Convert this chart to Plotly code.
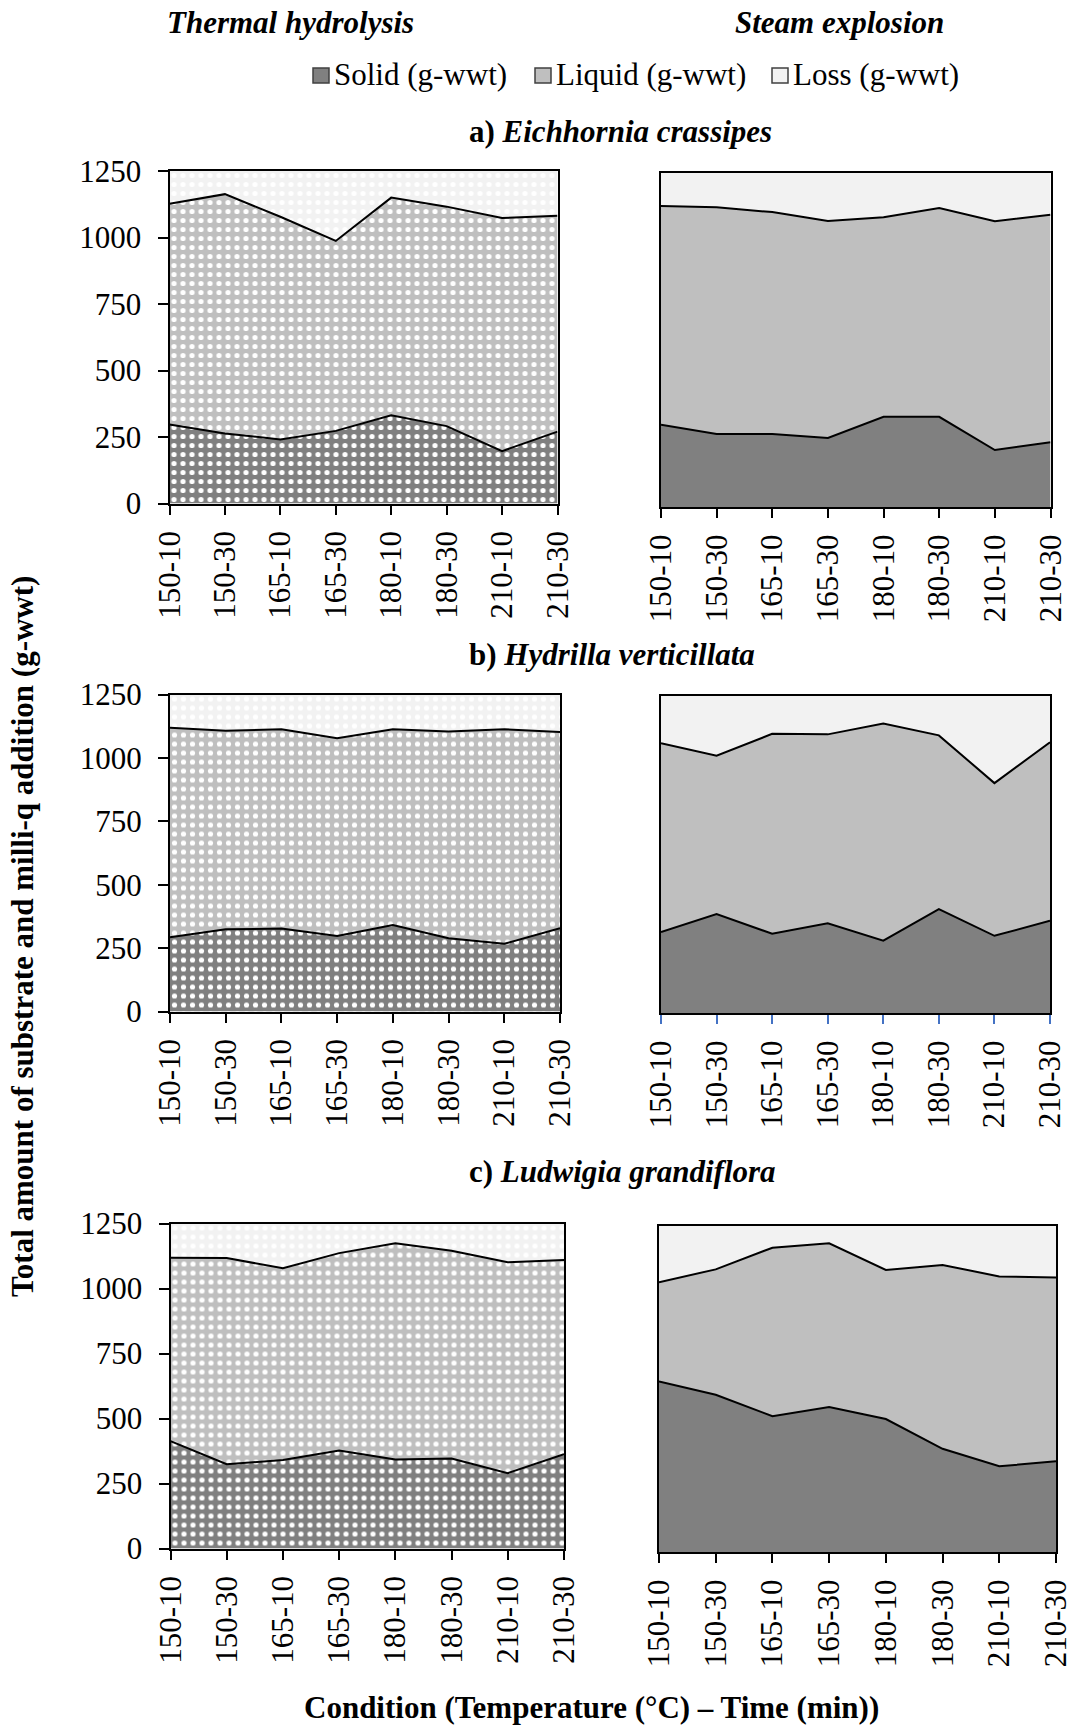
import plotly.graph_objects as go

# Pretreatment conditions (temperature °C - time min)
conditions = ["150-10", "150-30", "165-10", "165-30", "180-10", "180-30", "210-10", "210-30"]
y_ticks = [0, 250, 500, 750, 1000, 1250]

# a) Eichhornia crassipes
th_a_solid = [297, 263, 241, 273, 332, 291, 197, 270]
th_a_liquid = [830, 900, 837, 714, 818, 825, 876, 812]
th_a_loss = [123, 87, 172, 263, 100, 134, 177, 168]
se_a_solid = [307, 273, 273, 258, 337, 337, 213, 242]
se_a_liquid = [818, 847, 829, 811, 746, 780, 855, 850]
se_a_loss = [125, 130, 148, 181, 167, 133, 182, 158]

# b) Hydrilla verticillata
th_b_solid = [293, 324, 327, 298, 341, 289, 267, 328]
th_b_liquid = [826, 783, 786, 780, 772, 815, 846, 774]
th_b_loss = [131, 143, 137, 172, 137, 146, 137, 148]
se_b_solid = [319, 390, 312, 353, 285, 409, 304, 363]
se_b_liquid = [743, 623, 787, 744, 855, 684, 601, 703]
se_b_loss = [188, 237, 151, 153, 110, 157, 345, 184]

# c) Ludwigia grandiflora
th_c_solid = [413, 324, 340, 377, 342, 346, 290, 363]
th_c_liquid = [705, 793, 738, 759, 832, 799, 811, 747]
th_c_loss = [132, 133, 172, 114, 76, 105, 149, 140]
se_c_solid = [653, 602, 520, 555, 509, 395, 328, 347]
se_c_liquid = [380, 480, 645, 627, 571, 704, 727, 704]
se_c_loss = [217, 168, 85, 68, 170, 151, 195, 199]

series_names = ["Solid (g-wwt)", "Liquid (g-wwt)", "Loss (g-wwt)"]
colors = ["#808080", "#bfbfbf", "#f2f2f2"]

W, H = 1073, 1730
FONT = "Liberation Serif, Times New Roman, serif"
TICK_SIZE = 31
TEXT_SIZE = 31


def px(x):
    return x / W


def py(y):
    return 1 - y / H


# panel boxes in pixels: (left, right, top, bottom)
panels = [
    (169.5, 557.5, 171, 503.5, th_a_solid, th_a_liquid, th_a_loss, True),
    (661, 1050.5, 172.5, 507, se_a_solid, se_a_liquid, se_a_loss, False),
    (170, 560, 694.5, 1011.5, th_b_solid, th_b_liquid, th_b_loss, True),
    (661, 1050, 695.5, 1013, se_b_solid, se_b_liquid, se_b_loss, False),
    (170.5, 564, 1223.5, 1548.5, th_c_solid, th_c_liquid, th_c_loss, True),
    (659, 1056, 1225.5, 1552, se_c_solid, se_c_liquid, se_c_loss, False),
]

fig = go.Figure()
layout = {}

for i, (l, r, t, b, solid, liquid, loss, thermal) in enumerate(panels, start=1):
    xa = "x" if i == 1 else f"x{i}"
    ya = "y" if i == 1 else f"y{i}"
    for k, vals in enumerate([solid, liquid, loss]):
        tr = dict(
            x=conditions, y=vals, name=series_names[k], mode="lines",
            stackgroup=f"g{i}", xaxis=xa, yaxis=ya, showlegend=False,
            line=dict(color="black", width=2 if k < 2 else 0),
            fillcolor=colors[k],
        )
        if thermal:
            tr["fillpattern"] = dict(shape=".", bgcolor=colors[k], fgcolor="#ffffff",
                                     size=9, solidity=0.26, fillmode="replace")
        fig.add_trace(go.Scatter(**tr))

    xkey = "xaxis" if i == 1 else f"xaxis{i}"
    ykey = "yaxis" if i == 1 else f"yaxis{i}"
    blue_ticks = (i == 4)
    layout[xkey] = dict(
        domain=[px(l), px(r)], anchor=ya, type="category",
        categoryorder="array", categoryarray=conditions,
        range=[0, 7], showgrid=False, zeroline=False, automargin=False,
        showline=True, linecolor="black", linewidth=2, mirror=True,
        ticks="outside", ticklen=9, tickwidth=2,
        tickcolor="#4472c4" if blue_ticks else "black",
        tickangle=-90, ticklabelstandoff=4,
        tickfont=dict(family=FONT, size=TICK_SIZE, color="black"),
    )
    layout[ykey] = dict(
        domain=[py(b), py(t)], anchor=xa, range=[0, 1250],
        showgrid=False, zeroline=False, automargin=False,
        showline=True, linecolor="black", linewidth=2, mirror=True,
        tickvals=y_ticks, ticks="outside" if thermal else "",
        ticklen=10, tickwidth=2, tickcolor="black",
        showticklabels=thermal, ticklabelstandoff=10,
        tickfont=dict(family=FONT, size=TICK_SIZE, color="black"),
    )

annotations = [
    dict(text="<b><i>Thermal hydrolysis</i></b>", x=px(290), y=py(22)),
    dict(text="<b><i>Steam explosion</i></b>", x=px(839), y=py(22)),
    dict(text="<b>a) <i>Eichhornia crassipes</i></b>", x=px(467), y=py(132), xanchor="left"),
    dict(text="<b>b) <i>Hydrilla verticillata</i></b>", x=px(467), y=py(654), xanchor="left"),
    dict(text="<b>c) <i>Ludwigia grandiflora</i></b>", x=px(467), y=py(1171), xanchor="left"),
    dict(text="<b>Condition (Temperature (°C) – Time (min))</b>", x=px(591), y=py(1707)),
    dict(text="<b>Total amount of substrate and milli-q addition (g-wwt)</b>",
         x=px(22), y=py(937), textangle=-90),
]

# legend: swatch + label
shapes = []
legend_x = [313, 535, 772]
for k in range(3):
    x0 = legend_x[k]
    shapes.append(dict(type="rect", xref="paper", yref="paper",
                       x0=px(x0), x1=px(x0 + 16), y0=py(83), y1=py(68),
                       fillcolor=colors[k], line=dict(color="#404040", width=1.5)))
    annotations.append(dict(text=series_names[k], x=px(x0 + 19), y=py(75), xanchor="left"))

for a in annotations:
    a.setdefault("xanchor", "center")
    a.update(xref="paper", yref="paper", yanchor="middle", showarrow=False,
             font=dict(family=FONT, size=TEXT_SIZE, color="black"))

fig.update_layout(
    width=W, height=H,
    margin=dict(l=0, r=0, t=0, b=0, pad=0, autoexpand=False),
    showlegend=False,
    paper_bgcolor="white", plot_bgcolor="white",
    annotations=annotations, shapes=shapes, **layout,
)

fig.write_html("out.html")
